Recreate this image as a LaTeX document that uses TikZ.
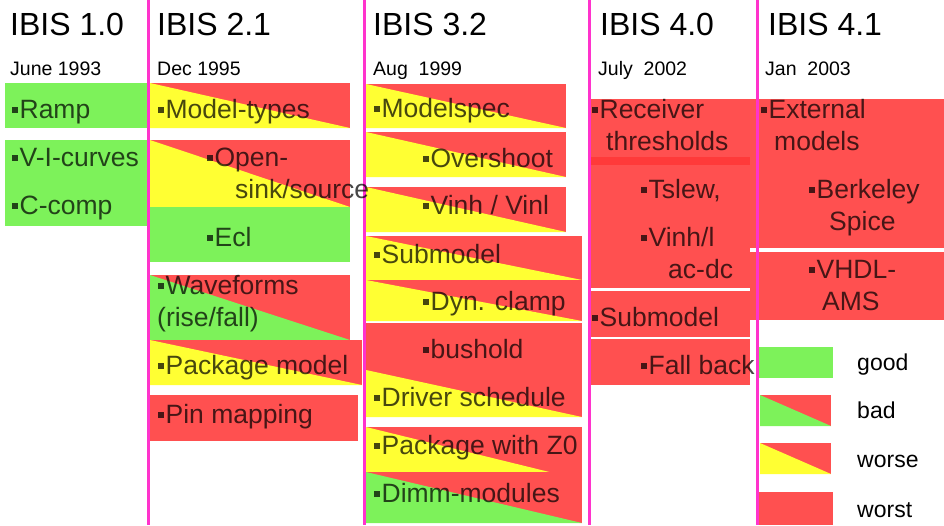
\documentclass[tikz,border=0pt]{standalone}
\usepackage{fontspec}
\setmainfont{Liberation Sans}
\definecolor{gd}{HTML}{7DF25A}
\definecolor{yl}{HTML}{FFFF33}
\definecolor{rd}{HTML}{FF5050}
\definecolor{rdk}{HTML}{FF3A3A}
\definecolor{mag}{HTML}{FF33CC}
\newcommand\bu{\raisebox{0.2em}{\rule{0.22em}{0.22em}}\hspace{0.06em}}
% full box: x1 y1 x2 y2 colour
\newcommand\ibfull[5]{\fill[#5] (#1,#2) rectangle (#3,#4);}
% split box: red upper-right, #5 lower-left
\newcommand\ibsplit[5]{\fill[rd] (#1,#2) rectangle (#3,#4);
  \fill[#5] (#1,#2) -- (#3,#4) -- (#1,#4) -- cycle;}
\begin{document}
\begin{tikzpicture}[x=1pt,y=-1pt,
  title/.style={anchor=base west,inner sep=0pt,font=\fontsize{32}{36}\selectfont},
  date/.style={anchor=base west,inner sep=0pt,font=\fontsize{19.5}{22}\selectfont},
  lab/.style={anchor=base west,inner sep=0pt,font=\fontsize{26.5}{30}\selectfont,text=black,text opacity=0.72},
  leg/.style={anchor=base west,inner sep=0pt,font=\fontsize{23}{26}\selectfont},
  vline/.style={draw=mag,line width=3pt}]
\useasboundingbox (0,0) rectangle (944,525);
% ---------- column 1 ----------
\ibfull{5}{83}{148}{128}{gd}
\ibfull{5}{140}{148}{183}{gd}
\ibfull{5}{183}{148}{226}{gd}
% ---------- column 2 ----------
\ibsplit{150}{83}{350}{128}{yl}
\ibsplit{150}{140}{350}{207}{yl}
\ibfull{150}{207}{350}{262}{gd}
\ibsplit{150}{275}{350}{340}{gd}
\ibsplit{150}{340}{362}{385}{yl}
\ibfull{150}{395}{358}{441}{rd}
% ---------- column 3 ----------
\ibsplit{366}{84}{566}{128}{yl}
\ibsplit{366}{132}{566}{177}{yl}
\ibsplit{366}{187}{566}{232}{yl}
\ibsplit{366}{236}{582}{280}{yl}
\ibsplit{366}{280}{582}{321}{yl}
\ibfull{366}{323}{582}{370}{rd}
\ibsplit{366}{370}{582}{417}{yl}
\ibsplit{366}{427}{582}{480}{yl}
\ibsplit{366}{472}{582}{523}{gd}
% ---------- column 4 ----------
\ibfull{590}{99}{750}{288}{rd}
\ibfull{590}{157}{750}{165}{rdk}
\ibfull{590}{291}{750}{337}{rd}
\ibfull{590}{339}{750}{385}{rd}
% ---------- column 5 ----------
\ibfull{750}{99}{944}{248}{rd}
\ibfull{750}{252}{944}{320}{rd}
% ---------- legend ----------
\ibfull{757}{347}{833}{378}{gd}
\ibsplit{760}{395}{831}{426}{gd}
\ibsplit{760}{443}{831}{474}{yl}
\ibfull{757}{492}{833}{525}{rd}
% ---------- vertical lines ----------
\draw[vline] (148,0) -- (148,525);
\draw[vline] (364,0) -- (364,525);
\draw[vline] (589,0) -- (589,525);
\draw[vline] (757,0) -- (757,525);
% ---------- titles ----------
\node[title] (t1) at (10,35) {IBIS 1.0};
\node[title] (t2) at (157,35) {IBIS 2.1};
\node[title] (t3) at (373,35) {IBIS 3.2};
\node[title] (t4) at (600,35) {IBIS 4.0};
\node[title] (t5) at (768,35) {IBIS 4.1};
\node[date] (d1) at (10,75) {June 1993};
\node[date] (d2) at (157,75) {Dec 1995};
\node[date] (d3) at (373,75) {Aug\ \ 1999};
\node[date] (d4) at (598,75) {July\ \ 2002};
\node[date] (d5) at (765,75) {Jan\ \ 2003};
% ---------- column 1 labels ----------
\node[lab] (a1) at (12,118) {\bu Ramp};
\node[lab] (a2) at (12,166) {\bu V-I-curves};
\node[lab] (a3) at (12,214) {\bu C-comp};
% ---------- column 2 labels ----------
\node[lab] (b1) at (158,118) {\bu Model-types};
\node[lab] (b2) at (207,166) {\bu Open-};
\node[lab] (b2b) at (235,198) {sink/source};
\node[lab] (b3) at (207,246) {\bu Ecl};
\node[lab] (b4) at (158,294) {\bu Waveforms};
\node[lab] (b4b) at (157,326) {(rise/fall)};
\node[lab] (b5) at (158,374) {\bu Package model};
\node[lab] (b6) at (158,423) {\bu Pin mapping};
% ---------- column 3 labels ----------
\node[lab] (c1) at (374,117) {\bu Modelspec};
\node[lab] (c2) at (423,167) {\bu Overshoot};
\node[lab] (c3) at (423,214) {\bu Vinh / Vinl};
\node[lab] (c4) at (374,263) {\bu Submodel};
\node[lab] (c5) at (423,310) {\bu Dyn. clamp};
\node[lab] (c6) at (423,358) {\bu bushold};
\node[lab] (c7) at (374,406) {\bu Driver schedule};
\node[lab] (c8) at (374,454) {\bu Package with Z0};
\node[lab] (c9) at (374,502) {\bu Dimm-modules};
% ---------- column 4 labels ----------
\node[lab] (e1) at (592,118) {\bu Receiver};
\node[lab] (e1b) at (606,150) {thresholds};
\node[lab] (e2) at (641,198) {\bu Tslew,};
\node[lab] (e3) at (641,246) {\bu Vinh/l};
\node[lab] (e3b) at (668,278) {ac-dc};
\node[lab] (e4) at (592,326) {\bu Submodel};
\node[lab] (e5) at (641,374) {\bu Fall back};
% ---------- column 5 labels ----------
\node[lab] (f1) at (761,118) {\bu External};
\node[lab] (f1b) at (774,150) {models};
\node[lab] (f2) at (809,198) {\bu Berkeley};
\node[lab] (f2b) at (829,230) {Spice};
\node[lab] (f3) at (809,278) {\bu VHDL-};
\node[lab] (f3b) at (822,310) {AMS};
% ---------- legend labels ----------
\node[leg] (g1) at (857,370) {good};
\node[leg] (g2) at (857,418) {bad};
\node[leg] (g3) at (857,467) {worse};
\node[leg] (g4) at (857,517) {worst};
\end{tikzpicture}
\end{document}
